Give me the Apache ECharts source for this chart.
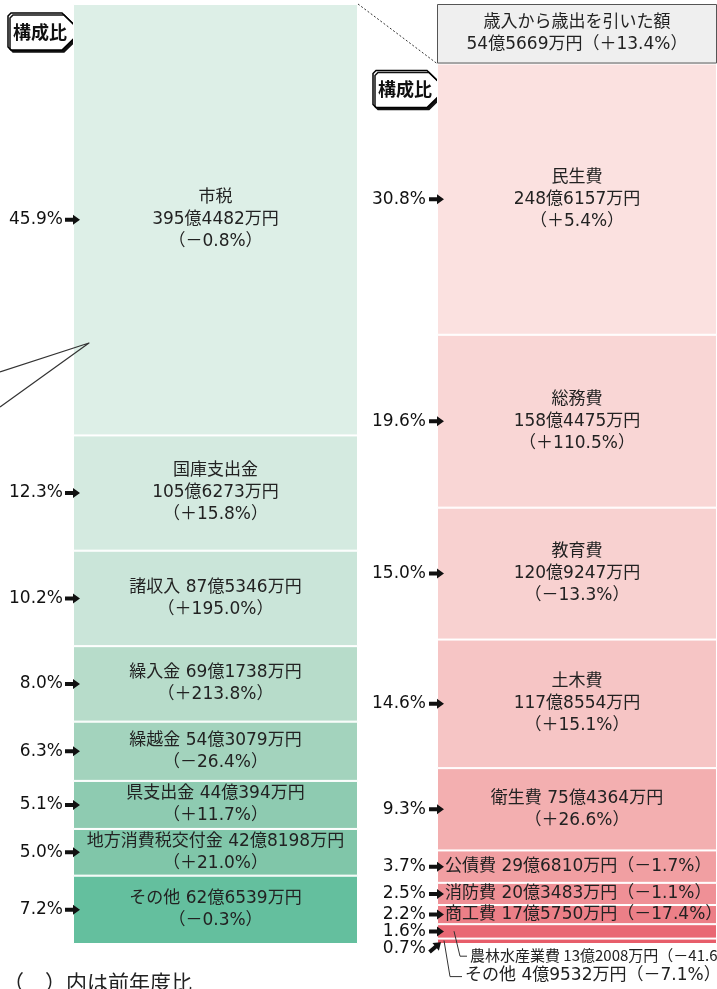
<!DOCTYPE html>
<html>
<head>
<meta charset="utf-8">
<style>
  html, body { margin: 0; padding: 0; background: #fff; }
  #chart { width: 717px; height: 989px; }
</style>
<script src="https://cdn.jsdelivr.net/npm/echarts@6/dist/echarts.min.js"></script>
</head>
<body>
<div id="chart"></div>
<script>
// 歳入 (top to bottom), values in 億円
var revNames = ["市税", "国庫支出金", "諸収入", "繰入金", "繰越金", "県支出金", "地方消費税交付金", "その他"];
var revValues = [395.4482, 105.6273, 87.5346, 69.1738, 54.3079, 44.0394, 42.8198, 62.6539];
var revChanges = ["－0.8", "＋15.8", "＋195.0", "＋213.8", "－26.4", "＋11.7", "＋21.0", "－0.3"];
var revShares = ["45.9", "12.3", "10.2", "8.0", "6.3", "5.1", "5.0", "7.2"];

// 歳出 (top to bottom)
var expNames = ["民生費", "総務費", "教育費", "土木費", "衛生費", "公債費", "消防費", "商工費", "農林水産業費", "その他"];
var expValues = [248.6157, 158.4475, 120.9247, 117.8554, 75.4364, 29.6810, 20.3483, 17.5750, 13.2008, 4.9532];
var expChanges = ["＋5.4", "＋110.5", "－13.3", "＋15.1", "＋26.6", "－1.7", "－1.1", "－17.4", "－41.6", "－7.1"];
var expShares = ["30.8", "19.6", "15.0", "14.6", "9.3", "3.7", "2.5", "2.2", "1.6", "0.7"];

// 歳入から歳出を引いた額
var balanceValue = 54.5669;
var balanceChange = "＋13.4";

var revColors = ["#ddefe7", "#d4eae0", "#cae5d9", "#b7dcca", "#a3d3bd", "#8ecbb1", "#80c6a9", "#64bf9e"];
var expColors = ["#fbe1e0", "#f9d6d5", "#f8d1d0", "#f6c5c5", "#f3afb0", "#f19fa2", "#ef9096", "#ec7f87", "#e96874", "#e75d6a"];

var CJK = "'Noto Sans CJK JP', sans-serif";
var FONT = "'DejaVu Sans', 'Noto Sans CJK JP', sans-serif";
var LEFT_W = 285, RIGHT_W = 280;

function yen(v) {
  var oku = Math.floor(v + 1e-9);
  var man = Math.round((v - oku) * 10000);
  return oku + "億" + man + "万円";
}

function sum(a) { return a.reduce(function (s, v) { return s + v; }, 0); }
var revTotal = sum(revValues);
var expTotal = sum(expValues);

var baseLabel = { color: "#222", fontSize: 17, lineHeight: 22, fontFamily: FONT };

function shareLabel(text, diag, dist) {
  return {
    show: true, position: "left", distance: dist,
    offset: diag ? [0, 7] : [0, 0],
    formatter: text + "%",
    fontSize: 17, color: "#111", fontFamily: FONT
  };
}

var series = [];

// revenue, bottom first for stacking
for (var i = revNames.length - 1; i >= 0; i--) {
  var txt = i < 2
    ? revNames[i] + "\n" + yen(revValues[i]) + "\n（" + revChanges[i] + "%）"
    : revNames[i] + " " + yen(revValues[i]) + "\n（" + revChanges[i] + "%）";
  series.push({
    type: "bar", name: revNames[i], stack: "rev", xAxisIndex: 0, yAxisIndex: 0,
    barWidth: LEFT_W, barGap: "-100%", data: [revValues[i]],
    itemStyle: { color: revColors[i], borderColor: "#fff", borderWidth: 1 },
    label: Object.assign({ show: true, position: "inside", formatter: txt }, baseLabel),
    silent: true
  });
  series.push({
    type: "bar", stack: "revShare", xAxisIndex: 0, yAxisIndex: 0,
    barWidth: LEFT_W, barGap: "-100%", data: [revValues[i]],
    itemStyle: { color: "rgba(0,0,0,0)" },
    label: shareLabel(revShares[i], false, 10), silent: true
  });
}

// expenditure
for (var j = expNames.length - 1; j >= 0; j--) {
  var lab;
  if (j < 4) {
    lab = Object.assign({ show: true, position: "inside",
      formatter: expNames[j] + "\n" + yen(expValues[j]) + "\n（" + expChanges[j] + "%）" }, baseLabel);
  } else if (j === 4) {
    lab = Object.assign({ show: true, position: "inside",
      formatter: expNames[j] + " " + yen(expValues[j]) + "\n（" + expChanges[j] + "%）" }, baseLabel);
  } else if (j < 8) {
    lab = Object.assign({ show: true, position: "insideLeft", distance: 8,
      formatter: expNames[j] + " " + yen(expValues[j]) + "（" + expChanges[j] + "%）" }, baseLabel);
  } else if (j === 8) {
    lab = Object.assign({}, baseLabel, { show: true, position: [33, 31], verticalAlign: "middle", align: "left",
      fontSize: 15, fontFamily: CJK, formatter: expNames[j] + " " + yen(expValues[j]) + "（" + expChanges[j] + "%）" });
  } else {
    lab = Object.assign({}, baseLabel, { show: true, position: [28, 37], verticalAlign: "middle", align: "left",
      formatter: expNames[j] + " " + yen(expValues[j]) + "（" + expChanges[j] + "%）" });
  }
  series.push({
    type: "bar", name: expNames[j], stack: "exp", xAxisIndex: 1, yAxisIndex: 1,
    barWidth: RIGHT_W, barGap: "-100%", data: [expValues[j]],
    itemStyle: { color: expColors[j], borderColor: "#fff", borderWidth: 1 },
    label: lab, silent: true
  });
  series.push({
    type: "bar", stack: "expShare", xAxisIndex: 1, yAxisIndex: 1,
    barWidth: RIGHT_W, barGap: "-100%", data: [expValues[j]],
    itemStyle: { color: "rgba(0,0,0,0)" },
    label: shareLabel(expShares[j], j === 9, 11), silent: true
  });
}

series.push({
  type: "bar", name: "歳入から歳出を引いた額", stack: "exp", xAxisIndex: 1, yAxisIndex: 1,
  barWidth: RIGHT_W, barGap: "-100%", data: [balanceValue],
  itemStyle: { color: "#efefef", borderColor: "#555", borderWidth: 1 },
  label: Object.assign({ show: true, position: "inside",
    formatter: "歳入から歳出を引いた額\n" + yen(balanceValue) + "（" + balanceChange + "%）" }, baseLabel),
  silent: true
});

var chart = echarts.init(document.getElementById("chart"));
chart.setOption({
  animation: false,
  grid: [
    { left: 73, width: LEFT_W, top: 4, bottom: 45 },
    { left: 437, width: RIGHT_W, top: 4, bottom: 45 }
  ],
  xAxis: [
    { type: "category", gridIndex: 0, data: ["歳入"], show: false },
    { type: "category", gridIndex: 1, data: ["歳出"], show: false }
  ],
  yAxis: [
    { type: "value", gridIndex: 0, min: 0, max: revTotal, show: false },
    { type: "value", gridIndex: 1, min: 0, max: revTotal, show: false }
  ],
  series: series
});

/* ── annotations ── */
function px(g, v) { return chart.convertToPixel({ gridIndex: g }, [0, v]); }
var lx = px(0, 0)[0] - LEFT_W / 2;
var ltop = px(0, revTotal)[1];
var rx = px(1, 0)[0] - RIGHT_W / 2;
var rtop = px(1, expTotal)[1];
var agriTop = px(1, expValues[8] + expValues[9])[1];
var otherTop = px(1, expValues[9])[1];

function tag(x, y) {
  return {
    type: "group", x: x, y: y, z: 100,
    children: [
      { type: "polygon",
        shape: { points: [[0, 3], [3, 0], [54, 0], [73, 18.5], [54, 37], [3, 37], [0, 34]] },
        style: { fill: "#fff", stroke: "#000", lineWidth: 1.5, shadowColor: "#111", shadowOffsetX: 2, shadowOffsetY: 2 } },
      { type: "text", x: 32, y: 19,
        style: { text: "構成比", font: "bold 18px " + CJK, fill: "#111", align: "center", verticalAlign: "middle" } }
    ]
  };
}

function arrow(tipX, y, rot) {
  return {
    type: "polygon", x: tipX, y: y, rotation: rot || 0, z: 100,
    shape: { points: [[0, 0], [-7, -5], [-7, -2], [-15, -2], [-15, 2], [-7, 2], [-7, 5]] },
    style: { fill: "#111" }
  };
}

var graphics = [];
var acc = 0;
for (var a = revValues.length - 1; a >= 0; a--) {
  graphics.push(arrow(lx + 7, px(0, acc + revValues[a] / 2)[1]));
  acc += revValues[a];
}
acc = 0;
for (var b = expValues.length - 1; b >= 0; b--) {
  if (b === 9) graphics.push(arrow(rx + 4, px(1, acc + expValues[b] / 2)[1] + 1, 0.7));
  else graphics.push(arrow(rx + 7, px(1, acc + expValues[b] / 2)[1]));
  acc += expValues[b];
}

var line = { stroke: "#333", lineWidth: 1, fill: null };
graphics = graphics.concat([
  { type: "line", z: 100, shape: { x1: lx + LEFT_W, y1: ltop, x2: rx, y2: rtop },
    style: { stroke: "#333", lineWidth: 1, lineDash: [2, 2] } },
  { type: "polyline", z: 100, shape: { points: [[0, ltop + 368], [lx + 16, ltop + 339], [0, ltop + 403]] },
    style: { stroke: "#333", lineWidth: 1.2, fill: null, lineJoin: "round" } },
  tag(lx - 65, ltop + 9),
  tag(rx - 64, rtop + 7),
  { type: "polyline", z: 100, shape: { points: [[rx + 17, agriTop + 7], [rx + 23, agriTop + 32], [rx + 30, agriTop + 32]] }, style: line },
  { type: "polyline", z: 100, shape: { points: [[rx + 7, otherTop + 2], [rx + 13, otherTop + 38], [rx + 25, otherTop + 38]] }, style: line },
  { type: "text", left: 3, top: 972,
    style: { text: "（　）内は前年度比", font: "21px " + CJK, fill: "#222" } }
]);
chart.setOption({ graphic: graphics });
</script>
</body>
</html>
